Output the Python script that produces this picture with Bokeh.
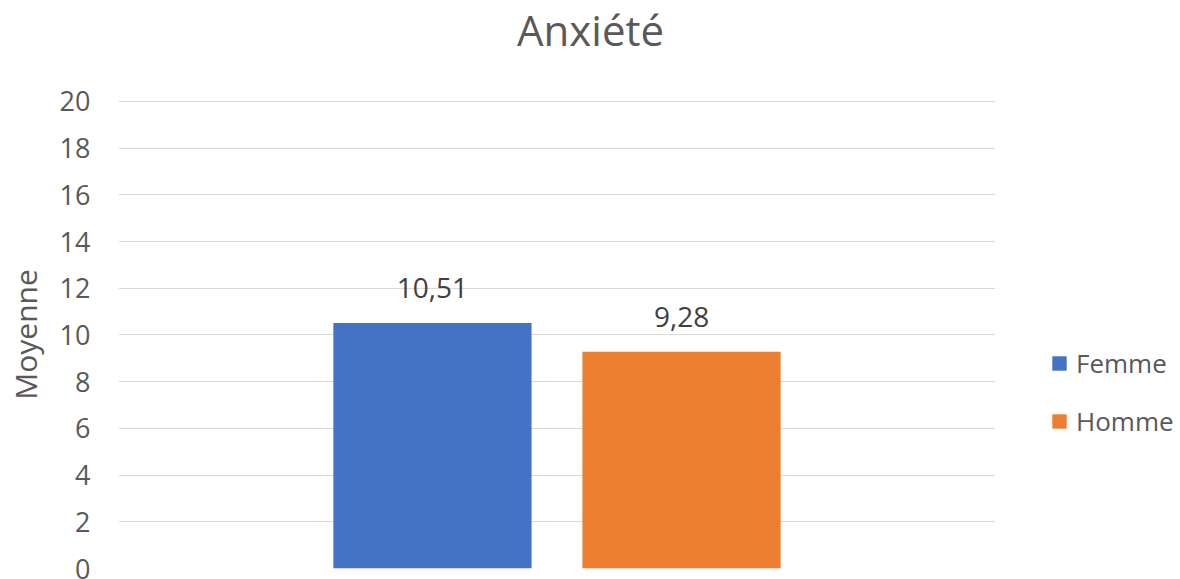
from bokeh.plotting import figure
from bokeh.layouts import column, row
from bokeh.models import ColumnDataSource, FactorRange, Range1d, LabelSet, Legend, LegendItem, SingleIntervalTicker
from bokeh.core.properties import value
from bokeh.transform import dodge
from bokeh.embed import file_html
from bokeh.resources import INLINE

categories = ["Anxiété"]
series = ["Femme", "Homme"]
femme = [10.51]
homme = [9.28]
colors = ["#4472C4", "#ED7D31"]
title_text = "Anxiété"
y_label = "Moyenne"

FONT = "Open Sans"
GREY = "#595959"

# --- title strip ---
pt = figure(width=1180, height=62, output_backend="svg", toolbar_location=None,
            min_border=0, title=title_text)
pt.outline_line_color = None
pt.axis.visible = False
pt.grid.visible = False
pt.title.align = "center"
pt.title.vertical_align = "top"
pt.title.standoff = 0
pt.title.offset = -5
pt.title.text_font = FONT
pt.title.text_font_size = "42px"
pt.title.text_font_style = "normal"
pt.title.text_color = GREY

# --- main chart ---
p = figure(width=995, height=517, x_range=FactorRange(factors=categories, range_padding=0),
           y_range=Range1d(0, 20.04), output_backend="svg", toolbar_location=None,
           min_border_left=118, min_border_right=0, min_border_top=38, min_border_bottom=11)
p.outline_line_color = None
p.xaxis.visible = False
p.xgrid.visible = False
p.ygrid.grid_line_color = "#d9d9d9"
p.ygrid.grid_line_width = 1

p.yaxis.ticker = SingleIntervalTicker(interval=2)
p.yaxis.axis_line_color = None
p.yaxis.major_tick_line_color = None
p.yaxis.minor_tick_line_color = None
p.yaxis.major_label_text_font = FONT
p.yaxis.major_label_text_font_size = "27px"
p.yaxis.major_label_text_color = GREY
p.yaxis.major_label_standoff = 22
p.yaxis.axis_label = y_label
p.yaxis.axis_label_text_font = FONT
p.yaxis.axis_label_text_font_size = "30px"
p.yaxis.axis_label_text_font_style = "normal"
p.yaxis.axis_label_text_color = GREY
p.yaxis.axis_label_standoff = 11

# --- legend strip ---
pl = figure(width=185, height=517, x_range=FactorRange(factors=categories, range_padding=0),
            y_range=Range1d(1000, 1001), output_backend="svg", toolbar_location=None, min_border=0)
pl.outline_line_color = None
pl.axis.visible = False
pl.grid.visible = False

offsets = [-0.142, 0.142]
legend_renderers = []
for name, vals, col, off in zip(series, [femme, homme], colors, offsets):
    src = ColumnDataSource(dict(cat=categories, val=vals,
                                lab=[f"{v:.2f}".replace(".", ",") for v in vals]))
    p.vbar(x=dodge("cat", off, range=p.x_range), top="val", width=0.226, source=src,
           fill_color=col, line_color=None)
    p.add_layout(LabelSet(x=dodge("cat", off, range=p.x_range), y="val", text="lab", source=src,
                          text_align="center", text_baseline="alphabetic", y_offset=25,
                          text_font=value(FONT), text_font_size=value("28px"),
                          text_color="#404040"))
    # same series, used only for the legend swatch (zero width, outside the strip's range)
    lr = pl.vbar(x=dodge("cat", off, range=pl.x_range), top="val", width=0, source=src,
                 fill_color=col, line_color=None)
    legend_renderers.append(lr)

legend = Legend(items=[LegendItem(label=n, renderers=[r]) for n, r in zip(series, legend_renderers)],
                location=(55, 129), border_line_color=None, background_fill_alpha=0,
                label_text_font=FONT, label_text_font_size="26px", label_text_color=GREY,
                glyph_width=18, glyph_height=18, label_standoff=8, spacing=22, padding=0, margin=0)
pl.add_layout(legend, "center")

layout = column(pt, row(p, pl, spacing=0), spacing=0)
open("out.html", "w").write(file_html(layout, INLINE))
